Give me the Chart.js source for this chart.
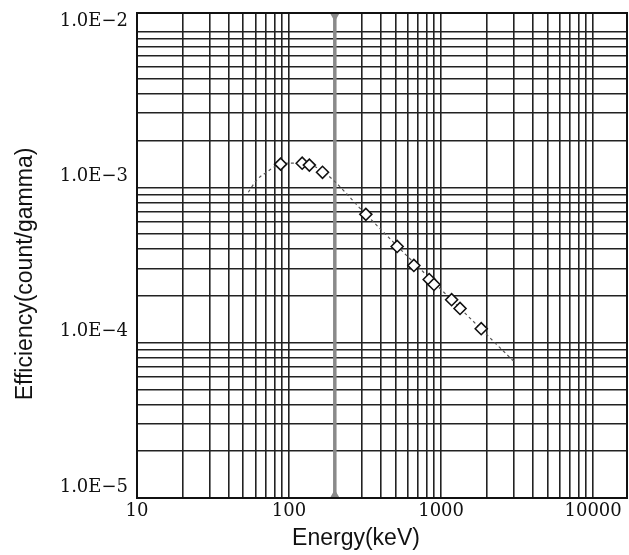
<!DOCTYPE html>
<html>
<head>
<meta charset="utf-8">
<script src="https://cdn.jsdelivr.net/npm/chart.js@4.4.0/dist/chart.umd.min.js"></script>
<style>
  html, body { margin: 0; padding: 0; background: #fff; }
  #wrap { width: 629px; height: 555px; }
</style>
</head>
<body>
<div id="wrap"><canvas id="effChart" width="629" height="555"></canvas></div>
<script>
// puntos medidos (keV, cuentas/gamma)
const energies = [88, 122, 136, 166, 320, 514, 662, 835, 898, 1173, 1332, 1836];
const efficiencies = [1.41e-3, 1.43e-3, 1.39e-3, 1.25e-3, 6.7e-4, 4.16e-4, 3.14e-4, 2.55e-4, 2.37e-4, 1.89e-4, 1.66e-4, 1.23e-4];

// curva ajustada (punteada)
const fitEnergies = [54, 61, 71, 83, 100, 125, 166, 320, 600, 1000, 1836, 3000];
const fitValues = [9.3e-4, 1.11e-3, 1.25e-3, 1.38e-3, 1.43e-3, 1.42e-3, 1.27e-3, 6.7e-4, 3.6e-4, 2.2e-4, 1.22e-4, 7.6e-5];

// linea gris vertical (cursor)
const cursorEnergy = 200;

// decadas y etiquetas de los ejes
const xDecades = [10, 100, 1000, 10000];
const xLabels = ['10', '100', '1000', '10000'];
const yDecades = [1e-5, 1e-4, 1e-3, 1e-2];
const yLabels = ['1.0E\u22125', '1.0E\u22124', '1.0E\u22123', '1.0E\u22122'];

const xMin = 10, xMax = 16700;
const yMin = 1e-5, yMax = 0.01325;

function initializeChart() {
    if (typeof Chart === 'undefined') {
        console.error('Chart.js no está cargado');
        return;
    }

    // todas las lineas 1..9 de cada decada
    function logTicks(decades, max) {
        const ticks = [];
        decades.forEach(d => {
            for (let m = 1; m <= 9; m++) {
                const v = d * m;
                if (v <= max * 1.0001) ticks.push({ value: v });
            }
        });
        return ticks;
    }

    function labelFor(decades, labels) {
        return function(value) {
            for (let i = 0; i < decades.length; i++) {
                if (Math.abs(value - decades[i]) / decades[i] < 1e-6) return labels[i];
            }
            return '';
        };
    }

    // marco y titulos de los ejes
    const framePlugin = {
        id: 'frame',
        afterDraw(chart) {
            const { ctx, chartArea: a } = chart;
            ctx.save();
            ctx.strokeStyle = '#111';
            ctx.lineWidth = 2;
            ctx.strokeRect(a.left, a.top, a.right - a.left, a.bottom - a.top);

            ctx.fillStyle = '#111';
            ctx.font = '23px "Liberation Sans", Arial, sans-serif';
            ctx.textAlign = 'center';
            ctx.textBaseline = 'alphabetic';
            ctx.fillText('Energy(keV)', 356, 545);

            ctx.translate(32, 274);
            ctx.rotate(-Math.PI / 2);
            ctx.fillText('Efficiency(count/gamma)', 0, 0);
            ctx.restore();
        }
    };

    const gridStyle = {
        color: '#222',
        lineWidth: 1.6,
        drawTicks: false
    };

    const tickFont = { family: '"DejaVu Serif", serif', size: 18 };

    new Chart(document.getElementById('effChart'), {
        type: 'scatter',
        data: {
            datasets: [
                {
                    label: 'medido',
                    data: energies.map((e, i) => ({ x: e, y: efficiencies[i] })),
                    pointStyle: 'rectRot',
                    pointRadius: 6,
                    pointBorderWidth: 1.6,
                    pointBorderColor: '#111',
                    pointBackgroundColor: '#fff',
                    showLine: false
                },
                {
                    label: 'ajuste',
                    data: fitEnergies.map((e, i) => ({ x: e, y: fitValues[i] })),
                    showLine: true,
                    borderColor: '#555',
                    borderWidth: 1.2,
                    borderDash: [3, 3],
                    pointRadius: 0,
                    tension: 0.3,
                    cubicInterpolationMode: 'monotone'
                },
                {
                    label: 'cursor',
                    data: [{ x: cursorEnergy, y: yMax }, { x: cursorEnergy, y: yMin }],
                    showLine: true,
                    borderColor: '#8a8a8a',
                    borderWidth: 3.5,
                    pointStyle: 'triangle',
                    pointRotation: [180, 0],
                    pointRadius: 5,
                    pointBackgroundColor: '#8a8a8a',
                    pointBorderColor: '#8a8a8a'
                }
            ]
        },
        options: {
            responsive: false,
            animation: false,
            layout: {
                autoPadding: false,
                padding: { top: 13, right: 2, left: 0, bottom: 0 }
            },
            plugins: {
                legend: { display: false },
                tooltip: { enabled: false }
            },
            scales: {
                x: {
                    type: 'logarithmic',
                    min: xMin,
                    max: xMax,
                    grid: gridStyle,
                    border: { display: false },
                    afterBuildTicks: scale => { scale.ticks = logTicks(xDecades, xMax); },
                    afterFit: scale => {
                        scale.height = 57;
                        scale.paddingLeft = 0;
                        scale.paddingRight = 0;
                    },
                    ticks: {
                        autoSkip: false,
                        maxRotation: 0,
                        padding: 3,
                        color: '#111',
                        font: tickFont,
                        callback: labelFor(xDecades, xLabels)
                    }
                },
                y: {
                    type: 'logarithmic',
                    min: yMin,
                    max: yMax,
                    grid: gridStyle,
                    border: { display: false },
                    afterBuildTicks: scale => { scale.ticks = logTicks(yDecades, yMax); },
                    afterFit: scale => {
                        scale.width = 137;
                        scale.paddingTop = 0;
                        scale.paddingBottom = 0;
                    },
                    ticks: {
                        autoSkip: false,
                        padding: 9,
                        labelOffset: -11,
                        color: '#111',
                        font: tickFont,
                        callback: labelFor(yDecades, yLabels)
                    }
                }
            }
        },
        plugins: [framePlugin]
    });
}

document.addEventListener('DOMContentLoaded', initializeChart);
</script>
</body>
</html>
